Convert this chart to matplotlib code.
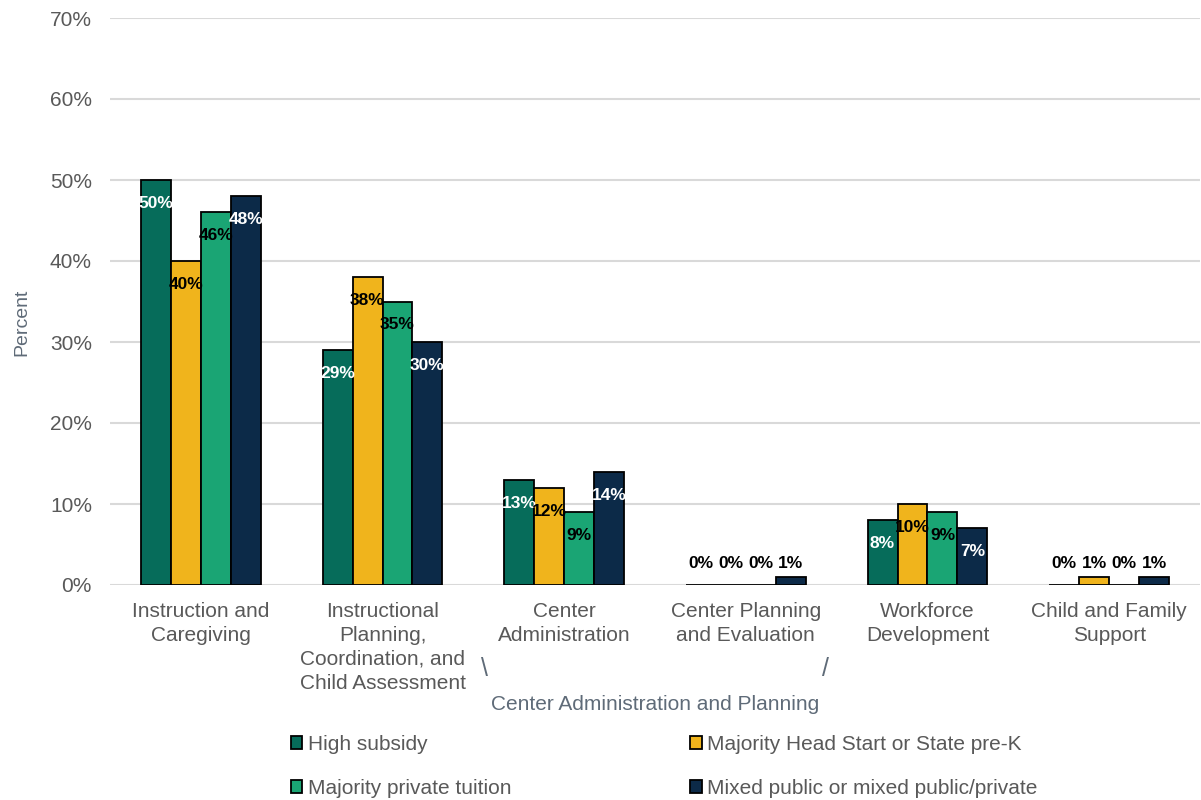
import matplotlib
matplotlib.use("Agg")
import matplotlib.pyplot as plt
from matplotlib import font_manager
from matplotlib.patches import Patch
import numpy as np

# chart data
categories = ["Instruction and\nCaregiving",
              "Instructional\nPlanning,\nCoordination, and\nChild Assessment",
              "Center\nAdministration",
              "Center Planning\nand Evaluation",
              "Workforce\nDevelopment",
              "Child and Family\nSupport"]
series_names = ["High subsidy", "Majority Head Start or State pre-K",
                "Majority private tuition", "Mixed public or mixed public/private"]
high_subsidy = [50, 29, 13, 0, 8, 0]
head_start = [40, 38, 12, 0, 10, 1]
private_tuition = [46, 35, 9, 0, 9, 0]
mixed_public = [48, 30, 14, 1, 7, 1]
y_ticks = [0, 10, 20, 30, 40, 50, 60, 70]
group_label = "Center Administration and Planning"

colors = ["#066C5A", "#F0B41C", "#1AA574", "#0C2A48"]
label_colors = ["white", "black", "black", "white"]
gray = "#595959"
slate = "#5F6B78"

plt.rcParams["font.family"] = ["Liberation Sans", "DejaVu Sans"]


def has_font(name):
    try:
        font_manager.findfont(name, fallback_to_default=False)
        return True
    except Exception:
        return False


narrow = "Liberation Sans Narrow" if has_font("Liberation Sans Narrow") else "Liberation Sans"

fig = plt.figure(figsize=(12.01, 8.0), dpi=100)
ax = fig.add_axes([110 / 1201, 1 - 585 / 800, 1090 / 1201, (585 - 18) / 800])

x = np.arange(len(categories))
width = 0.165
all_series = [high_subsidy, head_start, private_tuition, mixed_public]

for i, vals in enumerate(all_series):
    xs = x + (i - 1.5) * width
    ax.bar(xs, vals, width, color=colors[i], edgecolor="black", linewidth=1.3, zorder=3)
    for xi, v in zip(xs, vals):
        if v >= 3:
            ax.annotate(f"{v}%", (xi, v), xytext=(0, -11.5), textcoords="offset points",
                        ha="center", va="top", fontsize=12.5, fontweight="bold",
                        family=narrow, color=label_colors[i], zorder=4)
        else:
            ax.annotate(f"{v}%", (xi, 0), xytext=(0, 10), textcoords="offset points",
                        ha="center", va="bottom", fontsize=12.5, fontweight="bold",
                        family=narrow, color="black", zorder=4)

ax.set_xlim(-0.5, len(categories) - 0.5)
ax.set_ylim(0, 70)
ax.set_yticks(y_ticks)
ax.set_yticklabels([f"{t}%" for t in y_ticks])
ax.set_xticks(x)
ax.set_xticklabels(categories, linespacing=1.33)
ax.tick_params(axis="both", length=0, labelsize=15, labelcolor=gray)
ax.tick_params(axis="y", pad=13)
ax.tick_params(axis="x", pad=12)
for t in ax.get_xticklabels():
    t.set_multialignment("center")
ax.grid(axis="y", color="#D9D9D9", linewidth=1.5, zorder=0)
for s in ax.spines.values():
    s.set_visible(False)
ax.set_ylabel("Percent", fontsize=14, color=slate)
ax.yaxis.set_label_coords(-0.073, 0.464)

# group bracket for Center Administration and Planning
trans = ax.get_xaxis_transform()
ax.text(1.56, -0.148, "\\", transform=trans, ha="center", va="center",
        fontsize=18, color=slate, fontweight="light")
ax.text(3.44, -0.148, "/", transform=trans, ha="center", va="center",
        fontsize=18, color=slate, fontweight="light")
ax.text(2.5, -0.21, group_label, transform=trans, ha="center", va="center",
        fontsize=15, color=slate)

handles = [Patch(facecolor=c, edgecolor="black", linewidth=1.3) for c in colors]
order = [0, 2, 1, 3]
leg = fig.legend([handles[k] for k in order], [series_names[k] for k in order],
                 ncol=2, loc="upper left", bbox_to_anchor=(291 / 1201, 1 - 735 / 800),
                 frameon=False, fontsize=15, handlelength=0.55, handleheight=0.55,
                 handletextpad=0.25, columnspacing=8.6, labelspacing=1.2,
                 borderpad=0, borderaxespad=0)
for t in leg.get_texts():
    t.set_color(gray)

fig.savefig("out.png", dpi=100)
